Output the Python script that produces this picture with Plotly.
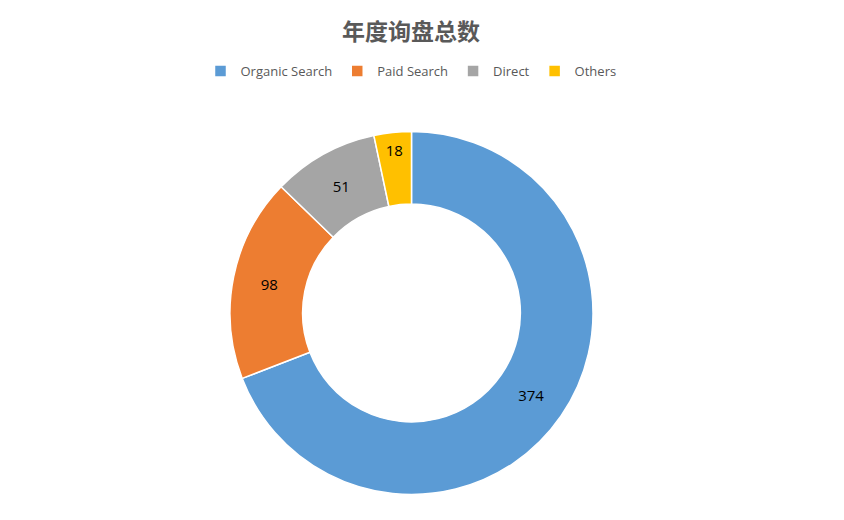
import plotly.graph_objects as go

# inquiry totals by channel
labels = ["Organic Search", "Paid Search", "Direct", "Others"]
values = [374, 98, 51, 18]
colors = ["#5B9BD5", "#ED7D31", "#A5A5A5", "#FFC000"]

W, H = 844, 520
OFF = 8  # page body margin shifts the figure by this much


def px_x(x):
    return (x - OFF) / W


def px_y(y):
    return 1 - (y - OFF) / H


fig = go.Figure()
fig.add_trace(go.Pie(
    labels=labels,
    values=values,
    hole=0.6,
    sort=False,
    direction="clockwise",
    rotation=0,
    marker=dict(colors=colors, line=dict(color="white", width=1.5)),
    textinfo="value",
    textposition="inside",
    insidetextorientation="horizontal",
    textfont=dict(family="Open Sans", size=15, color="black"),
    domain=dict(x=[px_x(230), px_x(593)], y=[px_y(495), px_y(131)]),
    hoverinfo="label+value+percent",
))

fig.update_layout(
    width=W,
    height=H,
    margin=dict(l=0, r=0, t=0, b=0),
    paper_bgcolor="white",
    plot_bgcolor="white",
    title=dict(
        text="<b>年度询盘总数</b>",
        x=px_x(411),
        xanchor="center",
        y=px_y(32),
        yanchor="middle",
        font=dict(family="Noto Sans CJK SC", size=23, color="#595959"),
    ),
    showlegend=True,
    legend=dict(
        orientation="h",
        x=px_x(411),
        xanchor="center",
        y=px_y(71),
        yanchor="middle",
        font=dict(family="Open Sans", size=13, color="#595959"),
        itemwidth=30,
    ),
)

fig.write_html("out.html")
